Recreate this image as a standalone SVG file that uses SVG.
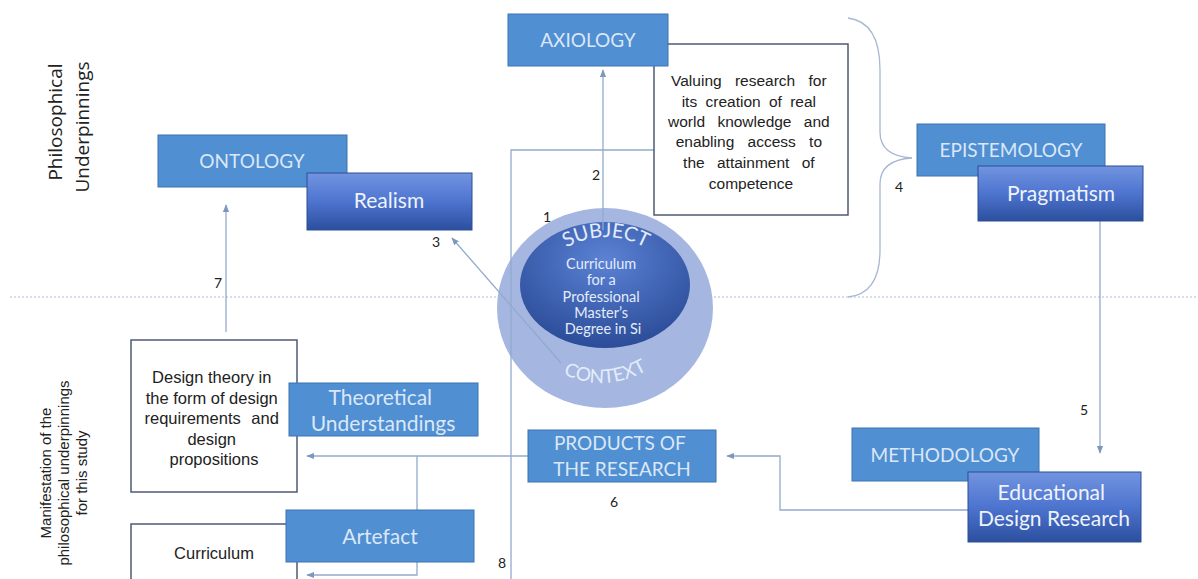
<svg xmlns="http://www.w3.org/2000/svg" width="1198" height="579" viewBox="0 0 1198 579">
  <style>
    .box { fill: #4f8fd2; stroke: #3d74b0; stroke-width: 1; }
    .gbox { fill: url(#gradBox); stroke: #2d4f95; stroke-width: 1; }
    .tbox { fill: #ffffff; stroke: #4d5a78; stroke-width: 1.5; }
    .lbl { font-family: Lato, "Open Sans", sans-serif; font-size: 19px; fill: #dbe7f7; text-anchor: middle; }
    .mlbl { font-family: Lato, "Open Sans", sans-serif; font-size: 21px; fill: #dbe7f7; text-anchor: middle; }
    .glbl { font-family: Lato, "Open Sans", sans-serif; font-size: 21px; fill: #eef3fc; text-anchor: middle; }
    .body { font-family: "Liberation Sans", Arial, sans-serif; font-size: 15.5px; fill: #222; text-anchor: middle; }
    .body2 { font-family: "Liberation Sans", Arial, sans-serif; font-size: 16.5px; fill: #222; text-anchor: middle; }
    .num { font-family: Lato, "Open Sans", sans-serif; font-size: 14px; fill: #222; text-anchor: middle; }
    .side { font-family: "Liberation Sans", Arial, sans-serif; font-size: 15px; fill: #222; text-anchor: middle; }
    .side2 { font-family: "Open Sans", Lato, sans-serif; font-size: 19px; fill: #222; text-anchor: middle; }
    .conn { fill: none; stroke: #93aacb; stroke-width: 1.3; }
    .circ { font-family: Lato, "Open Sans", sans-serif; fill: #e3ecfa; text-anchor: middle; }
  </style>
  <defs>
    <linearGradient id="gradBox" x1="0" y1="0" x2="0" y2="1">
      <stop offset="0" stop-color="#7294e0"/>
      <stop offset="0.5" stop-color="#4d74cf"/>
      <stop offset="1" stop-color="#2c4f9e"/>
    </linearGradient>
    <radialGradient id="gradInner" cx="0.5" cy="0.3" r="0.7">
      <stop offset="0" stop-color="#5b82d5"/>
      <stop offset="1" stop-color="#2b4c98"/>
    </radialGradient>
    <marker id="arr" viewBox="0 0 10 10" refX="9" refY="5" markerWidth="6" markerHeight="6" orient="auto">
      <path d="M0,1 L10,5 L0,9 z" fill="#7f97bd"/>
    </marker>
    <path id="arcSubject" d="M556,254 Q606,220 656,254"/>
    <path id="arcContext" d="M556,370 Q604,398 654,366"/>
  </defs>

  <!-- section divider -->
  <line x1="10" y1="297" x2="1198" y2="297" stroke="#a9bbd4" stroke-width="1.2" stroke-dasharray="2,2"/>

  <!-- side captions -->
  <g id="caption-top">
    <text class="side2" transform="translate(62,122) rotate(-90)">Philosophical</text>
    <text class="side2" transform="translate(89,127) rotate(-90)">Underpinnings</text>
  </g>
  <g id="caption-bottom">
    <text class="side" transform="translate(51,473) rotate(-90)">Manifestation of the</text>
    <text class="side" transform="translate(69,473) rotate(-90)">philosophical underpinnings</text>
    <text class="side" transform="translate(87,473) rotate(-90)">for this study</text>
  </g>

  <!-- brace grouping axiology value statement -->
  <path d="M848,18 Q880,22 880,70 L880,132 Q880,156 912,158 Q880,160 880,184 L880,250 Q880,294 848,297" fill="none" stroke="#a6b8d2" stroke-width="1.3"/>

  <!-- central subject / context -->
  <g id="subject-context">
    <ellipse cx="605" cy="308" rx="108" ry="100" fill="#a5b7e1"/>
    <ellipse cx="605" cy="285" rx="85" ry="63" fill="url(#gradInner)"/>
    <text class="circ" font-size="20"><textPath href="#arcSubject" startOffset="50%">SUBJECT</textPath></text>
    <text class="circ" font-size="14.5">
      <tspan x="603" y="269">Curriculum</tspan>
      <tspan x="603" y="285">for a</tspan>
      <tspan x="603" y="302">Professional</tspan>
      <tspan x="603" y="318">Master’s</tspan>
      <tspan x="603" y="334">Degree in Si</tspan>
    </text>
    <text class="circ" font-size="19"><textPath href="#arcContext" startOffset="50%">CONTEXT</textPath></text>
  </g>

  <!-- connectors -->
  <g id="connectors">
    <line class="conn" x1="603" y1="230" x2="603" y2="70" marker-end="url(#arr)"/>
    <polyline class="conn" points="511,579 511,150 677,150" marker-end="url(#arr)"/>
    <line class="conn" x1="561" y1="363" x2="452" y2="238" marker-end="url(#arr)"/>
    <line class="conn" x1="226" y1="332" x2="226" y2="205" marker-end="url(#arr)"/>
    <line class="conn" x1="1100" y1="221" x2="1100" y2="453" marker-end="url(#arr)"/>
    <polyline class="conn" points="968,510 780,510 780,456 727,456" marker-end="url(#arr)"/>
    <line class="conn" x1="528" y1="456" x2="307" y2="456" marker-end="url(#arr)"/>
    <polyline class="conn" points="417,456 417,575 307,575" marker-end="url(#arr)"/>
  </g>

  <!-- connector numbers -->
  <g id="numbers">
    <text class="num" x="547" y="222">1</text>
    <text class="num" x="596" y="180">2</text>
    <text class="num" x="436" y="247">3</text>
    <text class="num" x="899" y="192">4</text>
    <text class="num" x="1084" y="415">5</text>
    <text class="num" x="614" y="507">6</text>
    <text class="num" x="218" y="288">7</text>
    <text class="num" x="502" y="568">8</text>
  </g>

  <!-- axiology -->
  <g id="axiology-note">
    <rect class="tbox" x="654" y="44" width="194" height="171"/>
    <text class="body">
      <tspan x="751" y="86" word-spacing="9">Valuing research for</tspan>
      <tspan x="751" y="107" word-spacing="4">its creation of real</tspan>
      <tspan x="751" y="127" word-spacing="8">world knowledge and</tspan>
      <tspan x="751" y="147" word-spacing="9">enabling access to</tspan>
      <tspan x="751" y="168" word-spacing="8">the attainment of</tspan>
      <tspan x="751" y="189">competence</tspan>
    </text>
  </g>
  <g id="axiology">
    <rect class="box" x="508" y="14" width="160" height="52"/>
    <text class="lbl" x="588" y="47">AXIOLOGY</text>
  </g>

  <!-- ontology -->
  <g id="ontology">
    <rect class="box" x="158" y="135" width="189" height="52"/>
    <text class="lbl" x="252" y="168">ONTOLOGY</text>
  </g>
  <g id="realism">
    <rect class="gbox" x="307" y="173" width="165" height="57"/>
    <text class="glbl" x="389" y="208">Realism</text>
  </g>

  <!-- epistemology -->
  <g id="epistemology">
    <rect class="box" x="917" y="124" width="188" height="52"/>
    <text class="lbl" x="1011" y="157">EPISTEMOLOGY</text>
  </g>
  <g id="pragmatism">
    <rect class="gbox" x="978" y="166" width="165" height="55"/>
    <text class="glbl" x="1061" y="201">Pragmatism</text>
  </g>

  <!-- methodology -->
  <g id="methodology">
    <rect class="box" x="852" y="428" width="187" height="53"/>
    <text class="lbl" x="945" y="462">METHODOLOGY</text>
  </g>
  <g id="educational-design-research">
    <rect class="gbox" x="968" y="472" width="173" height="70"/>
    <text class="glbl">
      <tspan x="1054" y="500">Educational</tspan>
      <tspan x="1054" y="526">Design Research</tspan>
    </text>
  </g>

  <!-- products of the research -->
  <g id="products">
    <rect class="box" x="528" y="430" width="188" height="52"/>
    <text class="lbl">
      <tspan x="622" y="450">PRODUCTS OF</tspan>
      <tspan x="622" y="476">THE RESEARCH</tspan>
    </text>
  </g>

  <!-- theoretical understandings -->
  <g id="design-theory">
    <rect class="tbox" x="131" y="340" width="166" height="152"/>
    <text class="body2">
      <tspan x="214" y="383">Design theory in</tspan>
      <tspan x="214" y="404">the form of design</tspan>
      <tspan x="214" y="424" word-spacing="6">requirements and</tspan>
      <tspan x="214" y="445">design</tspan>
      <tspan x="214" y="465">propositions</tspan>
    </text>
  </g>
  <g id="theoretical-understandings">
    <rect class="box" x="289" y="383" width="189" height="53"/>
    <text class="mlbl">
      <tspan x="383" y="405">Theoretical</tspan>
      <tspan x="383" y="431">Understandings</tspan>
    </text>
  </g>

  <!-- artefact -->
  <g id="curriculum">
    <rect class="tbox" x="131" y="524" width="166" height="70"/>
    <text class="body2" x="214" y="559">Curriculum</text>
  </g>
  <g id="artefact">
    <rect class="box" x="286" y="510" width="188" height="52"/>
    <text class="mlbl" x="380" y="544">Artefact</text>
  </g>
</svg>
